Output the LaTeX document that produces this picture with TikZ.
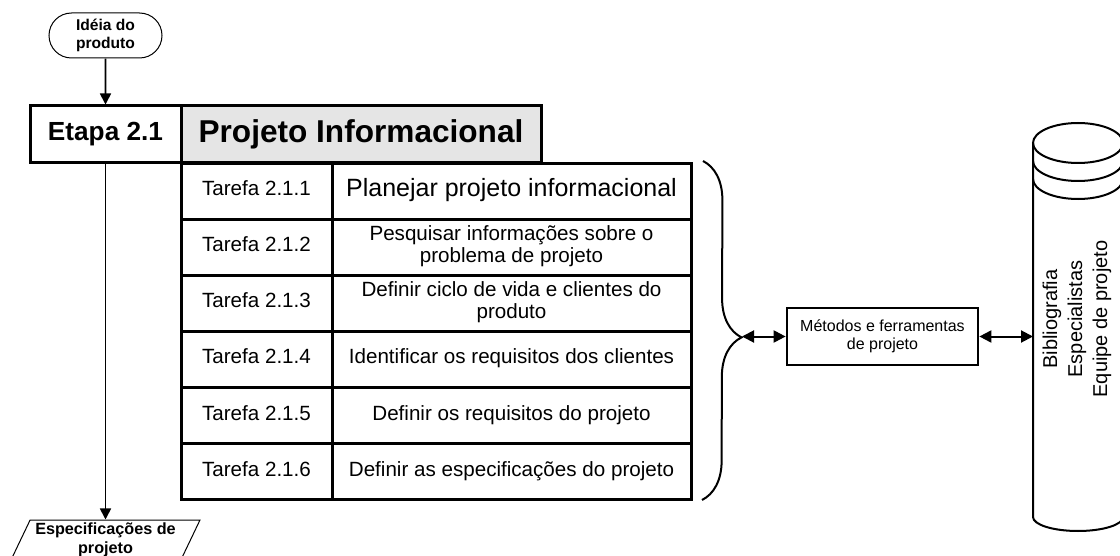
\documentclass[tikz,border=0pt]{standalone}
\usepackage{fontspec}
\setmainfont{Liberation Sans}
\usetikzlibrary{arrows.meta}
\usetikzlibrary{shapes.geometric,shapes.misc}
\usetikzlibrary{decorations.pathreplacing}

\begin{document}
\begin{tikzpicture}[x=0.5pt,y=-0.5pt]
    \tikzstyle{conn}=[draw,line width=.85pt,-{Triangle[length=5.5pt,width=5.5pt]},black]
    \tikzstyle{dconn}=[draw,line width=1pt,{Triangle[length=6pt,width=6pt]}-{Triangle[length=6pt,width=6pt]},black]
    \tikzstyle{headbox}=[draw,line width=1.5pt,minimum height=28.5pt,inner sep=0pt,font=\fontsize{13.1}{15}\selectfont\bfseries]
    \tikzstyle{cell}=[draw,line width=1.5pt,minimum height=28.08pt,inner sep=0pt,align=center,font=\fontsize{10.3}{10.8}\selectfont,execute at begin node=\strut,execute at end node=\strut]
    \tikzstyle{tarefacell}=[cell,minimum width=75.5pt]
    \tikzstyle{desccell}=[cell,minimum width=179.5pt]
    \tikzstyle{terminal}=[draw,rounded rectangle,line width=.5pt,minimum width=56.5pt,minimum height=22.5pt,inner sep=0pt,align=center,font=\fontsize{7.8}{9}\selectfont\bfseries]
    \tikzstyle{dataio}=[draw,trapezium,trapezium left angle=61,trapezium right angle=119,trapezium stretches body,line width=.5pt,minimum width=94.5pt,minimum height=20pt,inner sep=0pt,align=center,font=\fontsize{8.1}{9.7}\selectfont\bfseries]
    \tikzstyle{cylline}=[draw,line width=1pt]
    \useasboundingbox (0,0) rectangle (1120,556);
    % entrada e etapa
    \node[terminal] (ideia) at (105.5,35.5) {Idéia do\\produto};
    \node[headbox,minimum width=75.5pt] (etapa) at (105.5,134.5) {Etapa 2.1};
    \node[headbox,fill=black!10,minimum width=180pt,font=\fontsize{15.8}{18}\selectfont\bfseries] (projeto) at (361,134.5) {Projeto Informacional};
    % tarefas
    \node[tarefacell] (t1) at (256.5,191.1) {Tarefa 2.1.1};
    \node[tarefacell] (t2) at (256.5,247.3) {Tarefa 2.1.2};
    \node[tarefacell] (t3) at (256.5,303.4) {Tarefa 2.1.3};
    \node[tarefacell] (t4) at (256.5,359.6) {Tarefa 2.1.4};
    \node[tarefacell] (t5) at (256.5,415.8) {Tarefa 2.1.5};
    \node[tarefacell] (t6) at (256.5,471.9) {Tarefa 2.1.6};
    \node[desccell,font=\fontsize{12.5}{13}\selectfont] (d1) at (511.5,191.1) {Planejar projeto informacional};
    \node[desccell] (d2) at (511.5,247.3) {Pesquisar informações sobre o\\problema de projeto};
    \node[desccell] (d3) at (511.5,303.4) {Definir ciclo de vida e clientes do\\produto};
    \node[desccell] (d4) at (511.5,359.6) {Identificar os requisitos dos clientes};
    \node[desccell] (d5) at (511.5,415.8) {Definir os requisitos do projeto};
    \node[desccell] (d6) at (511.5,471.9) {Definir as especificações do projeto};
    % saida
    \node[dataio] (espec) at (105.5,540) {Especificações de\\projeto};
    \draw[conn] (ideia) -- (etapa);
    \draw[conn] (etapa.south) -- (etapa.south |- espec.north);
    % chave, metodos e fontes
    \draw[line width=1pt,decorate,decoration={brace,amplitude=19.5pt,aspect=0.52}] (703,161) -- (702,500);
    \coordinate (bracetip) at (742,336.5);
    \node[draw,line width=1.35pt,minimum width=95.5pt,minimum height=28.5pt,inner sep=0pt,align=center,font=\fontsize{8}{9}\selectfont] (metodos) at (882.5,336.5) {Métodos e ferramentas\\de projeto};
    \draw[cylline] (1078,143) ellipse[x radius=22.5pt,y radius=10pt];
    \draw[cylline] (1033,161) arc[start angle=180,end angle=360,x radius=22.5pt,y radius=10pt];
    \draw[cylline] (1033,179) arc[start angle=180,end angle=360,x radius=22.5pt,y radius=10pt];
    \draw[cylline] (1033,143) -- (1033,517) arc[start angle=180,end angle=360,x radius=22.5pt,y radius=7pt] -- (1123,143);
    \coordinate (cylleft) at (1033,336.5);
    \node[rotate=90,align=center,inner sep=0pt,font=\fontsize{10}{12.5}\selectfont] (fontes) at (1077,319) {Bibliografia\\Especialistas\\Equipe de projeto};
    \draw[dconn] (bracetip) -- (metodos.west);
    \draw[dconn] (metodos.east) -- (cylleft);
\end{tikzpicture}
\end{document}
